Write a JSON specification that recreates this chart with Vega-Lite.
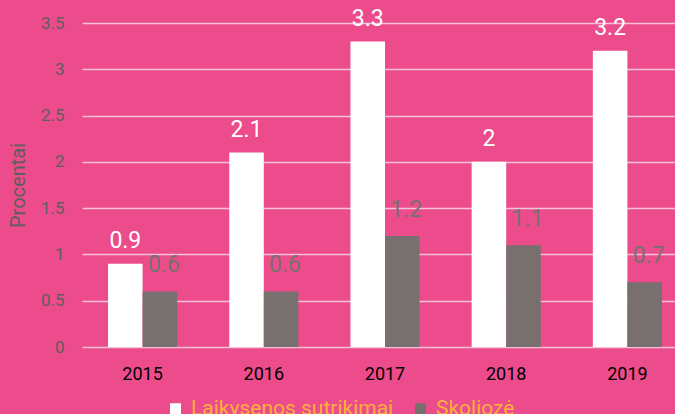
{
  "$schema": "https://vega.github.io/schema/vega-lite/v6.json",
  "width": 606,
  "height": 324,
  "autosize": "none",
  "padding": {"left": 82, "top": 23, "right": 0, "bottom": 67},
  "background": "#EC4C8B",
  "config": {
    "view": {"stroke": null},
    "font": "Roboto"
  },
  "data": {
    "values": [
      {"year": "2015", "series": "Laikysenos sutrikimai", "value": 0.9},
      {"year": "2015", "series": "Skoliozė", "value": 0.6},
      {"year": "2016", "series": "Laikysenos sutrikimai", "value": 2.1},
      {"year": "2016", "series": "Skoliozė", "value": 0.6},
      {"year": "2017", "series": "Laikysenos sutrikimai", "value": 3.3},
      {"year": "2017", "series": "Skoliozė", "value": 1.2},
      {"year": "2018", "series": "Laikysenos sutrikimai", "value": 2},
      {"year": "2018", "series": "Skoliozė", "value": 1.1},
      {"year": "2019", "series": "Laikysenos sutrikimai", "value": 3.2},
      {"year": "2019", "series": "Skoliozė", "value": 0.7}
    ]
  },
  "encoding": {
    "x": {
      "field": "year", "type": "nominal",
      "scale": {"paddingInner": 0.43, "paddingOuter": 0.215},
      "axis": {"title": null, "labelAngle": 0, "ticks": false, "domain": false, "labelColor": "#000000", "labelFontSize": 18, "labelPadding": 18}
    },
    "xOffset": {"field": "series", "type": "nominal", "sort": ["Laikysenos sutrikimai", "Skoliozė"]},
    "y": {
      "field": "value", "type": "quantitative",
      "scale": {"domain": [0, 3.5]},
      "axis": {"title": "Procentai", "titleColor": "#5E5E5E", "titleFontSize": 20, "titleFontWeight": "normal", "titlePadding": 12,
               "values": [0, 0.5, 1, 1.5, 2, 2.5, 3, 3.5], "format": "~g", "labelColor": "#5E5E5E", "labelFontSize": 17,
               "ticks": false, "domain": false, "labelPadding": 18, "gridColor": "#F4C2D8", "gridWidth": 1.5, "gridOpacity": 1}
    },
    "color": {
      "field": "series", "type": "nominal",
      "scale": {"domain": ["Laikysenos sutrikimai", "Skoliozė"], "range": ["#FFFFFF", "#78706E"]},
      "legend": {"title": null, "orient": "none", "legendX": 83, "legendY": 375, "direction": "horizontal",
                 "symbolType": "square", "symbolSize": 121, "symbolStrokeWidth": 0, "symbolOpacity": 1,
                 "labelColor": "#FBB03B", "labelFontSize": 21, "labelOffset": 5, "columnPadding": 16, "labelLimit": 400}
    }
  },
  "layer": [
    {"mark": {"type": "bar"}},
    {
      "transform": [{"filter": "datum.series === 'Laikysenos sutrikimai'"}],
      "mark": {"type": "text", "baseline": "alphabetic", "dy": -16, "fontSize": 23},
      "encoding": {"text": {"field": "value", "type": "quantitative"}}
    },
    {
      "transform": [{"filter": "datum.series === 'Skoliozė'"}],
      "mark": {"type": "text", "baseline": "alphabetic", "dy": -19, "dx": 4, "fontSize": 23},
      "encoding": {"text": {"field": "value", "type": "quantitative"}}
    }
  ]
}
